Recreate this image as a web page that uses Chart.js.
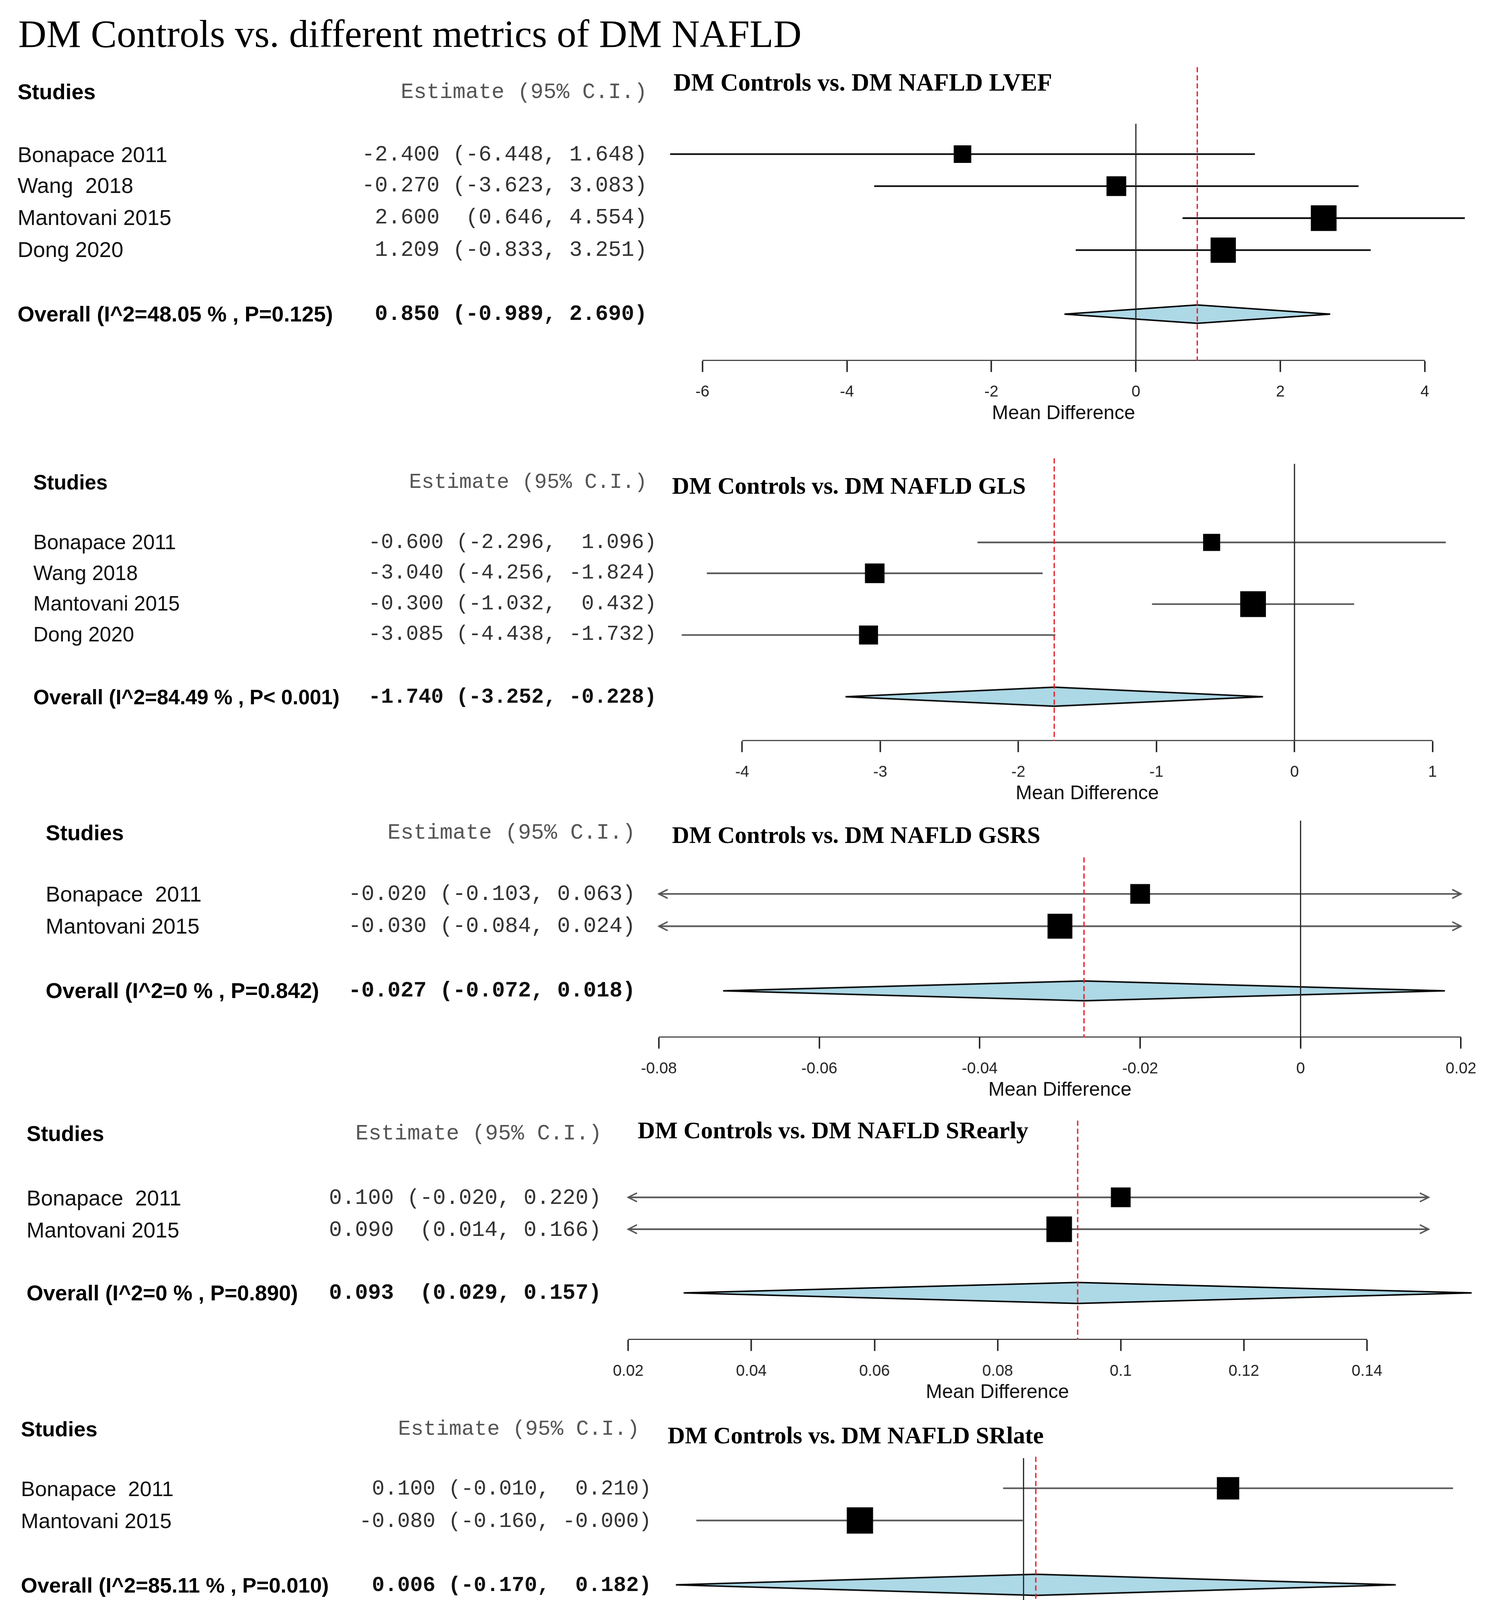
<!DOCTYPE html>
<html>
<head>
<meta charset="utf-8">
<script src="https://cdn.jsdelivr.net/npm/chart.js@4.4.1/dist/chart.umd.min.js"></script>
<style>
html, body { margin: 0; padding: 0; background: #fff; overflow: hidden; }
#page { position: absolute; left: 0; top: 0; width: 1024px; height: 1573px; transform-origin: 0 0; }
.t { position: absolute; white-space: pre; line-height: 20px; height: 20px; margin-top: -10px; color: #111; }
.sans { font-family: 'Liberation Sans', Arial, sans-serif; }
.mono { font-family: 'Liberation Mono', 'Courier New', monospace; color: #333; }
.serif { font-family: 'Liberation Serif', 'Times New Roman', serif; color: #000; }
canvas { position: absolute; }
</style>
</head>
<body>
<div id="page"></div>
<script>
const S = 3830 / 1024;
const page = document.getElementById('page');
page.style.transform = 'scale(' + S + ')';
Chart.defaults.font.family = "'Liberation Sans', Arial, sans-serif";

// ---- data: estimate, lower and upper 95% CI per study, pooled = [est, lo, hi] ----
const lvefStudies = ['Bonapace 2011', 'Wang  2018', 'Mantovani 2015', 'Dong 2020'];
const lvefEst = [-2.400, -0.270, 2.600, 1.209];
const lvefLo = [-6.448, -3.623, 0.646, -0.833];
const lvefHi = [1.648, 3.083, 4.554, 3.251];
const lvefPooled = [0.850, -0.989, 2.690];
const lvefTicks = [-6, -4, -2, 0, 2, 4];

const glsStudies = ['Bonapace 2011', 'Wang 2018', 'Mantovani 2015', 'Dong 2020'];
const glsEst = [-0.600, -3.040, -0.300, -3.085];
const glsLo = [-2.296, -4.256, -1.032, -4.438];
const glsHi = [1.096, -1.824, 0.432, -1.732];
const glsPooled = [-1.740, -3.252, -0.228];
const glsTicks = [-4, -3, -2, -1, 0, 1];

const gsrsStudies = ['Bonapace  2011', 'Mantovani 2015'];
const gsrsEst = [-0.020, -0.030];
const gsrsLo = [-0.103, -0.084];
const gsrsHi = [0.063, 0.024];
const gsrsPooled = [-0.027, -0.072, 0.018];
const gsrsTicks = [-0.08, -0.06, -0.04, -0.02, 0, 0.02];

const srEarlyStudies = ['Bonapace  2011', 'Mantovani 2015'];
const srEarlyEst = [0.100, 0.090];
const srEarlyLo = [-0.020, 0.014];
const srEarlyHi = [0.220, 0.166];
const srEarlyPooled = [0.093, 0.029, 0.157];
const srEarlyTicks = [0.02, 0.04, 0.06, 0.08, 0.1, 0.12, 0.14];

const srLateStudies = ['Bonapace  2011', 'Mantovani 2015'];
const srLateEst = [0.100, -0.080];
const srLateLo = [-0.010, -0.160];
const srLateHi = [0.210, -0.0004];
const srLatePooled = [0.006, -0.170, 0.182];
const srLateTicks = [-0.15, -0.1, -0.05, 0, 0.05, 0.1, 0.15, 0.2];

const gcsStudies = ['Wang 2018', 'Dong 2020'];
const gcsEst = [-1.240, -1.249];
const gcsLo = [-2.545, -2.667];
const gcsHi = [0.065, 0.168];
const gcsPooled = [-1.244, -2.204, -0.284];
const gcsTicks = [-2, -1.5, -1, -0.5];

const gasStudies = ['Wang 2018', 'Dong 2020'];
const gasEst = [-3.550, -3.315];
const gasLo = [-5.360, -4.974];
const gasHi = [-1.740, -1.656];
const gasPooled = [-3.422, -4.645, -2.199];
const gasTicks = [-5, -4.5, -4, -3.5, -3, -2.5, -2];

const overallLabels = [
  'Overall (I^2=48.05 % , P=0.125)',
  'Overall (I^2=84.49 % , P< 0.001)',
  'Overall (I^2=0 % , P=0.842)',
  'Overall (I^2=0 % , P=0.890)',
  'Overall (I^2=85.11 % , P=0.010)',
  'Overall (I^2=0 % , P=0.992)',
  'Overall (I^2=0 % , P=0.851)'
];
const metricNames = ['LVEF', 'GLS', 'GSRS', 'SRearly', 'SRlate', 'GCS', 'GAS'];

// ---- layout (in 1024-wide page units) ----
const panels = [
  { studies: lvefStudies, est: lvefEst, lo: lvefLo, hi: lvefHi, pooled: lvefPooled, ticks: lvefTicks,
    textX: 12, headY: 62.8, headRight: 443, estRight: 443, titleX: 461, titleY: 57.2, titleSize: 16.8,
    sans: 14.8, mono: 14.8, firstRow: 105.5, gap: 21.9, zeroTop: 84.7, redTop: 46, axis: 247,
    tickPx: [480.8, 975.2], left: 440, box: [12, 13.5, 17.6, 17.3], dHalf: 6.3, line: '#000', arrowAt: null },
  { studies: glsStudies, est: glsEst, lo: glsLo, hi: glsHi, pooled: glsPooled, ticks: glsTicks,
    textX: 22.8, headY: 329.6, headRight: 443, estRight: 449.5, titleX: 460, titleY: 333.4, titleSize: 16.3,
    sans: 14.1, mono: 14.3, firstRow: 371, gap: 21.1, zeroTop: 317.3, redTop: 313.5, axis: 506.8,
    tickPx: [508, 980.5], left: 440, box: [11.7, 13.4, 17.6, 13], dHalf: 6.5, line: '#555', arrowAt: null },
  { studies: gsrsStudies, est: gsrsEst, lo: gsrsLo, hi: gsrsHi, pooled: gsrsPooled, ticks: gsrsTicks,
    textX: 31.3, headY: 569.7, headRight: 435, estRight: 435, titleX: 460, titleY: 572, titleSize: 16.3,
    sans: 14.8, mono: 14.9, firstRow: 611.6, gap: 22.1, zeroTop: 561.5, redTop: 586.6, axis: 709.8,
    tickPx: [451, 1000], left: 420, box: [13.5, 17], dHalf: 6.8, line: '#555', arrowAt: [-0.08, 0.02] },
  { studies: srEarlyStudies, est: srEarlyEst, lo: srEarlyLo, hi: srEarlyHi, pooled: srEarlyPooled, ticks: srEarlyTicks,
    textX: 18.2, headY: 776, headRight: 412, estRight: 411.7, titleX: 436.5, titleY: 774, titleSize: 16.4,
    sans: 14.7, mono: 14.8, firstRow: 819.7, gap: 21.8, zeroTop: null, redTop: 767.2, axis: 917.2,
    tickPx: [430, 935.5], left: 400, box: [13.5, 17.5], dHalf: 7.2, line: '#555', arrowAt: [0.02, 0.15] },
  { studies: srLateStudies, est: srLateEst, lo: srLateLo, hi: srLateHi, pooled: srLatePooled, ticks: srLateTicks,
    textX: 14.3, headY: 978, headRight: 437.8, estRight: 446, titleX: 457, titleY: 983, titleSize: 16.4,
    sans: 14.5, mono: 14.5, firstRow: 1018.5, gap: 22, zeroTop: 997.9, redTop: 997, axis: 1113.9,
    tickPx: [490.6, 980.5], left: 440, box: [15.3, 18], dHalf: 7.2, line: '#555', arrowAt: null },
  { studies: gcsStudies, est: gcsEst, lo: gcsLo, hi: gcsHi, pooled: gcsPooled, ticks: gcsTicks,
    textX: 27.4, headY: 1190, headRight: 420, estRight: 428.7, titleX: 437.8, titleY: 1189.5, titleSize: 16.4,
    sans: 14.4, mono: 14.5, firstRow: 1229, gap: 20.4, zeroTop: null, redTop: 1172.7, axis: 1321,
    tickPx: [475.6, 942.7], left: 430, box: [15, 14.2], dHalf: 6.4, line: '#555', arrowAt: [-2.1, -0.4] },
  { studies: gasStudies, est: gasEst, lo: gasLo, hi: gasHi, pooled: gasPooled, ticks: gasTicks,
    textX: 29.3, headY: 1385.3, headRight: 430, estRight: 436.5, titleX: 447, titleY: 1389, titleSize: 16.3,
    sans: 14.7, mono: 14.8, firstRow: 1425.4, gap: 21.2, zeroTop: null, redTop: 1371, axis: 1518.7,
    tickPx: [454.7, 996.7], left: 420, box: [14, 14.4], dHalf: 6.1, line: '#555', arrowAt: [-5, -2] }
];

const AX_H = 30;

function text(str, x, y, cls, size, extra) {
  const d = document.createElement('div');
  d.className = 't ' + cls;
  d.textContent = str;
  d.style.top = y + 'px';
  d.style.fontSize = size + 'px';
  if (extra && extra.right !== undefined) {
    d.style.left = '0px';
    d.style.width = extra.right + 'px';
    d.style.textAlign = 'right';
  } else if (extra && extra.center) {
    d.style.left = (x - 150) + 'px';
    d.style.width = '300px';
    d.style.textAlign = 'center';
  } else {
    d.style.left = x + 'px';
  }
  if (extra && extra.bold) d.style.fontWeight = 'bold';
  if (extra && extra.color) d.style.color = extra.color;
  page.appendChild(d);
  return d;
}

// estimate column, formatted like the original: each column right-justified to a common width
function estimateStrings(est, lo, hi, pooled) {
  const f = v => v.toFixed(3);
  const E = est.concat(pooled[0]).map(f);
  const L = lo.concat(pooled[1]).map(v => '(' + f(v) + ',');
  const H = hi.concat(pooled[2]).map(v => f(v) + ')');
  const w = a => Math.max(...a.map(s => s.length));
  return E.map((e, i) => e.padStart(w(E)) + ' ' + L[i].padStart(w(L)) + ' ' + H[i].padStart(w(H)));
}

function drawPanel(p, k) {
  const n = p.est.length;
  const rowY = r => p.firstRow + (r - 1) * p.gap;
  const toRow = px => 1 + (px - p.firstRow) / p.gap;

  // text columns
  text('Studies', p.textX, p.headY, 'sans', p.sans, { bold: true, color: '#000' });
  text('Estimate (95% C.I.)', 0, p.headY, 'mono', p.mono, { right: p.headRight, color: '#555' });
  text('DM Controls vs. DM NAFLD ' + metricNames[k], p.titleX, p.titleY, 'serif', p.titleSize, { bold: true });
  const est = estimateStrings(p.est, p.lo, p.hi, p.pooled);
  p.studies.forEach((s, i) => {
    text(s, p.textX, rowY(i + 1), 'sans', p.sans);
    text(est[i], 0, rowY(i + 1), 'mono', p.mono, { right: p.estRight });
  });
  text(overallLabels[k], p.textX, rowY(n + 2), 'sans', p.sans, { bold: true, color: '#000' });
  text(est[n], 0, rowY(n + 2), 'mono', p.mono, { right: p.estRight, bold: true, color: '#111' });
  const t0 = p.ticks[0], t1 = p.ticks[p.ticks.length - 1];
  text('Mean Difference', (p.tickPx[0] + p.tickPx[1]) / 2, p.axis + 36, 'sans', 13.4, { center: true });

  // canvas placement
  const top0 = Math.min(p.redTop, p.zeroTop === null ? p.redTop : p.zeroTop);
  const H = Math.ceil(p.axis - top0 + AX_H);
  const top = p.axis + AX_H - H;
  const W = Math.round(1024 - p.left);
  const cv = document.createElement('canvas');
  cv.width = W; cv.height = H;
  cv.style.left = p.left + 'px'; cv.style.top = top + 'px';
  cv.style.width = W + 'px'; cv.style.height = H + 'px';
  page.appendChild(cv);

  const unit = (p.tickPx[1] - p.tickPx[0]) / (t1 - t0);
  const xMin = t0 - (p.tickPx[0] - p.left) / unit;
  const xMax = t0 + (p.left + W - p.tickPx[0]) / unit;
  const axisRow = toRow(p.axis);
  const ovRow = n + 2;
  const dh = p.dHalf / p.gap;
  const lo = p.arrowAt ? p.arrowAt[0] : -Infinity;
  const hi = p.arrowAt ? p.arrowAt[1] : Infinity;
  const lineDs = (data, color, width, dash) => ({
    data, showLine: true, borderColor: color, borderWidth: width, borderDash: dash || [],
    pointRadius: 0, pointHoverRadius: 0, tension: 0, fill: false
  });

  const datasets = [];
  datasets.push({
    data: p.est.map((v, i) => ({ x: v, y: i + 1 })),
    pointStyle: 'rect', pointRadius: p.box.map(b => b / Math.SQRT2), pointHoverRadius: p.box.map(b => b / Math.SQRT2),
    backgroundColor: '#000', borderWidth: 0, showLine: false
  });
  datasets.push(lineDs([{ x: p.pooled[0], y: toRow(p.redTop) }, { x: p.pooled[0], y: axisRow }], 'rgb(228,32,40)', 0.9, [3.5, 2]));
  if (p.zeroTop !== null) {
    datasets.push(lineDs([{ x: 0, y: toRow(p.zeroTop) }, { x: 0, y: axisRow }], '#222', 0.8));
  }
  p.est.forEach((v, i) => {
    datasets.push(lineDs([{ x: Math.max(p.lo[i], lo), y: i + 1 }, { x: Math.min(p.hi[i], hi), y: i + 1 }], p.line, 1.1));
  });
  const dia = lineDs([
    { x: p.pooled[1], y: ovRow }, { x: p.pooled[0], y: ovRow - dh }, { x: p.pooled[2], y: ovRow },
    { x: p.pooled[0], y: ovRow + dh }, { x: p.pooled[1], y: ovRow }
  ], '#000', 1);
  dia.fill = 'shape';
  dia.backgroundColor = '#add8e6';
  datasets.push(dia);
  datasets.push(lineDs([{ x: t0, y: axisRow }, { x: t1, y: axisRow }], '#222', 1.4));

  const arrows = {
    id: 'arrows' + k,
    afterDatasetsDraw(chart) {
      if (!p.arrowAt) return;
      const { ctx, scales: { x, y } } = chart;
      ctx.save();
      ctx.strokeStyle = p.line;
      ctx.lineWidth = 1;
      const head = (px, py, dir) => {
        ctx.beginPath();
        ctx.moveTo(px + dir * 6, py - 3);
        ctx.lineTo(px, py);
        ctx.lineTo(px + dir * 6, py + 3);
        ctx.stroke();
      };
      p.est.forEach((v, i) => {
        const py = y.getPixelForValue(i + 1);
        if (p.lo[i] < p.arrowAt[0]) head(x.getPixelForValue(p.arrowAt[0]), py, 1);
        if (p.hi[i] > p.arrowAt[1]) head(x.getPixelForValue(p.arrowAt[1]), py, -1);
      });
      ctx.restore();
    }
  };

  new Chart(cv.getContext('2d'), {
    type: 'scatter',
    data: { datasets },
    options: {
      responsive: false,
      animation: false,
      devicePixelRatio: S,
      events: [],
      layout: { padding: 0, autoPadding: false },
      plugins: { legend: { display: false }, tooltip: { enabled: false }, title: { display: false } },
      scales: {
        x: {
          type: 'linear', min: xMin, max: xMax, bounds: 'data',
          afterBuildTicks: s => { s.ticks = p.ticks.map(v => ({ value: v })); },
          afterFit: s => { s.height = AX_H; },
          grid: { drawOnChartArea: false, drawTicks: true, tickLength: 7.6, color: '#222', lineWidth: 1 },
          border: { display: false },
          ticks: {
            autoSkip: false, maxRotation: 0, padding: 7.4, color: '#222',
            font: { size: 10.8 }, callback: v => String(v)
          }
        },
        y: { type: 'linear', display: false, reverse: true, bounds: 'data', min: toRow(top), max: axisRow }
      }
    },
    plugins: [arrows]
  });
}

text('DM Controls vs. different metrics of DM NAFLD', 12.5, 22.7, 'serif', 26.7);
panels.forEach(drawPanel);
</script>
</body>
</html>
